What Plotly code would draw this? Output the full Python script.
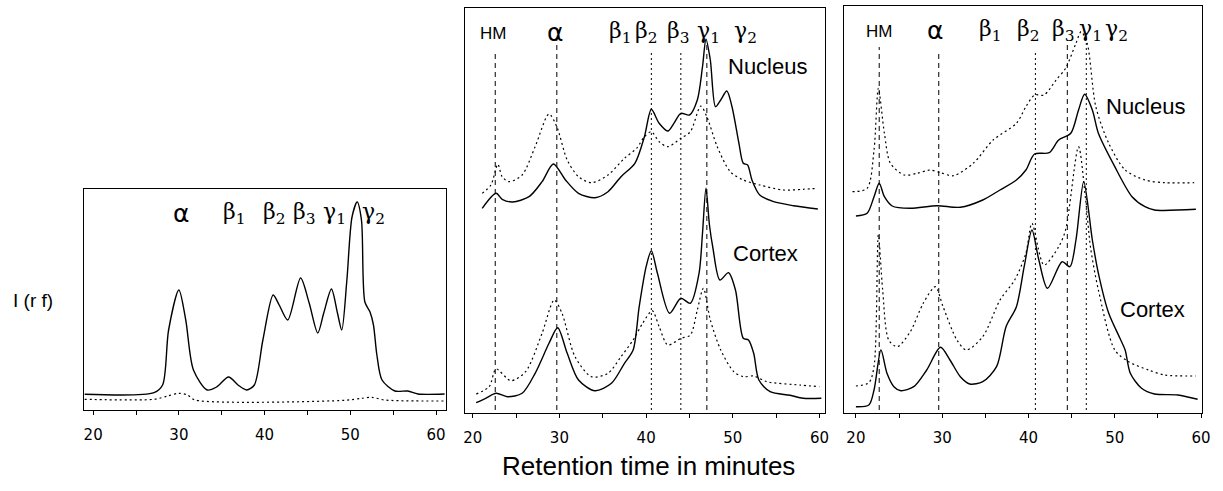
import plotly.graph_objects as go

# ---------------- data (retention time in minutes, intensity in relative units) -------------
# Panel 1
p1_t_solid = [19.0, 27.1, 28.1, 28.8, 30.0, 30.8, 31.7, 33.3, 34.4, 35.8, 36.9, 37.9, 38.8, 39.8,
              41.0, 41.7, 42.7, 44.2, 45.2, 46.2, 46.9, 47.8, 48.5, 49.0, 49.6, 50.2, 50.8, 51.3,
              51.7, 52.3, 52.7, 53.1, 53.7, 55.2, 56.7, 57.9, 61.0]
p1_solid = [15.7, 17.3, 25, 80, 120, 90, 40, 20, 23, 33, 25, 20, 25, 70,
            115, 105, 90, 132, 107, 77, 97, 121, 97, 80, 130, 193, 208, 190,
            108, 98, 85, 55, 30, 19, 19, 16, 16]
p1_t_dot = [19.0, 27.1, 28.7, 30.0, 31.0, 31.9, 49.4, 51.3, 52.5, 54.0, 61.0]
p1_dot = [10.7, 10.7, 14, 16.7, 15, 10, 9.7, 11.7, 12.7, 10, 9]

# Panel 2 - Nucleus
p2n_t_solid = [21.1, 22.7, 23.4, 24.6, 26.5, 28.0, 29.3, 30.7, 32.2, 34.1, 35.6, 37.1, 38.7, 39.8,
               40.6, 41.5, 42.5, 43.2, 44.0, 45.0, 45.9, 46.5, 46.9, 47.4, 48.0, 48.6, 49.3, 49.9,
               50.7, 51.2, 51.7, 52.2, 53.1, 54.7, 57.0, 59.8]
p2n_solid = [204.7, 219.7, 213.7, 211, 216.3, 231.3, 249, 233, 219.7, 215.3, 221.3, 236.3, 249.7, 276.3,
             303.7, 289.7, 282, 289.7, 299.7, 298, 313, 346.3, 373.7, 353, 306.3, 313, 322, 306.3,
             269.7, 249.7, 248, 233, 218, 211.3, 207.3, 204]
p2n_t_dot = [21.1, 22.1, 22.9, 23.4, 24.2, 25.7, 27.2, 28.8, 29.7, 30.9, 32.2, 33.7, 35.6, 37.5, 38.9,
             39.8, 40.6, 41.5, 42.5, 44.0, 45.1, 46.3, 47.0, 48.2, 49.7, 51.2, 53.1, 55.8, 58.1, 59.8]
p2n_dot = [219.7, 228, 248.7, 236.3, 231.3, 238, 266.3, 299, 286.3, 253, 236.3, 230.3, 238, 254.7, 264.7,
           276.3, 281.3, 271.3, 266.3, 274.7, 281.3, 307, 296.3, 266.3, 241.3, 233, 228, 223, 223.7, 224.7]

# Panel 2 - Cortex
p2c_t_solid = [20.4, 21.5, 22.7, 24.0, 25.7, 27.2, 28.8, 29.8, 30.9, 32.2, 34.1, 36.0, 37.5, 38.5,
               39.2, 40.0, 40.6, 41.3, 42.7, 44.0, 45.1, 46.1, 46.5, 46.9, 47.3, 47.7, 48.5, 49.5,
               50.3, 51.2, 51.8, 52.4, 53.0, 54.3, 56.6, 58.1, 60.2]
p2c_solid = [10.3, 14.7, 19.7, 16.3, 19.7, 39.7, 69.7, 85.3, 59.7, 33, 22.3, 29.7, 49.7, 63,
             106.3, 146.3, 162.3, 139.7, 99.7, 114.7, 109.7, 139.7, 180, 224.7, 188, 165, 133, 140.3,
             123, 74.7, 73, 59.7, 33, 21.3, 17.7, 14.7, 14.7]
p2c_t_dot = [20.4, 21.9, 22.7, 24.4, 26.1, 28.0, 29.4, 30.3, 31.8, 33.7, 35.6, 37.1, 38.5, 39.6, 40.7,
             41.5, 42.5, 44.0, 45.1, 45.9, 46.6, 47.4, 48.6, 50.1, 51.2, 52.4, 53.9, 57.7, 60.0]
p2c_dot = [19, 26.3, 44, 32.3, 41.3, 79.7, 113, 99.7, 56.3, 36.3, 39.7, 56.3, 73, 89.7, 102.3,
           86.3, 68, 74.7, 78, 103, 124.7, 93, 63, 41.3, 36.3, 37, 31.3, 28, 26.3]

# Panel 3 - Nucleus
p3n_t_solid = [20.0, 21.3, 22.1, 22.7, 23.3, 24.2, 26.3, 29.4, 32.1, 34.7, 36.7, 38.6, 39.7, 40.7,
               42.4, 43.5, 44.9, 45.8, 46.5, 47.4, 48.1, 50.0, 52.0, 53.5, 54.6, 59.4]
p3n_solid = [197, 199.7, 216.3, 229.7, 216.3, 207, 204.7, 207.3, 205.7, 213, 223, 233, 243, 259,
             260.3, 273, 279.7, 303, 318.7, 303, 279.7, 246.3, 216.3, 206.3, 203, 203.7]
p3n_t_dot = [19.6, 21.3, 22.1, 22.6, 23.3, 24.0, 25.6, 27.1, 28.6, 29.8, 31.3, 33.6, 35.9, 38.6,
             39.7, 40.7, 41.8, 43.2, 44.3, 45.5, 46.1, 46.8, 47.8, 49.3, 51.2, 53.5, 55.8, 59.2]
p3n_dot = [221.3, 224.7, 263, 324.7, 279.7, 249.7, 238, 239.7, 243, 240.3, 237.3, 249.7, 273, 289.7,
           306.3, 318, 318, 333, 344.7, 369.7, 381.3, 369.7, 306.3, 269.7, 243, 233, 230.3, 230.3]

# Panel 3 - Cortex
p3c_t_solid = [20.0, 21.5, 22.1, 22.9, 23.6, 24.4, 25.2, 26.7, 28.2, 29.8, 30.9, 32.1, 33.2, 34.7,
               36.3, 37.4, 38.6, 39.5, 40.4, 41.2, 42.2, 43.9, 44.8, 45.5, 46.4, 47.4, 48.1, 49.3,
               50.6, 51.2, 51.8, 53.1, 54.6, 57.3, 59.6]
p3c_solid = [6.3, 8, 23, 63, 39.7, 26.3, 22.3, 26.3, 43, 65.7, 53, 36.3, 29, 31.3,
             46.3, 86.3, 106.3, 146.3, 183, 153, 124.7, 151.3, 146.3, 173, 231.3, 173, 139.7, 99.7,
             74.7, 63, 39.7, 24.7, 19, 18, 13.7]
p3c_t_dot = [20.0, 21.5, 22.1, 22.6, 23.1, 23.8, 24.8, 26.3, 27.8, 29.2, 30.1, 31.7, 32.8, 34.7,
             36.7, 38.4, 39.7, 40.4, 41.8, 43.5, 44.3, 45.8, 46.6, 47.2, 48.1, 50.0, 51.6, 53.9, 55.8, 59.4]
p3c_dot = [27, 30.3, 46.3, 178, 123, 73, 66.3, 81.3, 109.7, 126.3, 106.3, 73, 63, 76.3,
           113, 133, 159.7, 189.7, 148, 166.3, 183, 266.3, 215, 165, 123, 63, 51.3, 43, 38, 37]

# Peak marker lines (retention times) and their top values
p2_marks_t = [22.6, 29.7, 40.6, 44.0, 47.0]
p2_marks_top = [361, 375, 360, 360, 370]
p3_marks_t = [22.7, 29.6, 40.8, 44.5, 46.7]
p3_marks_top = [366, 363, 363, 373, 383]

# Peak labels
peak_labels = ["α", "β<sub>1</sub>", "β<sub>2</sub>", "β<sub>3</sub>", "γ<sub>1</sub>", "γ<sub>2</sub>"]
p1_label_t = [30.2, 36.5, 41.2, 44.6, 48.1, 52.7]
p2_label_t = [29.5, 37.1, 40.0, 43.7, 47.2, 51.5]
p3_label_t = [29.2, 35.6, 40.0, 44.0, 47.2, 50.2]

tick_vals = [20, 25, 30, 35, 40, 45, 50, 55, 60]
tick_text = ["20", "", "30", "", "40", "", "50", "", "60"]

# ---------------- figure -------------
W, H = 1223, 491
fig = go.Figure()

solid_line = dict(color="black", width=1.4, shape="spline", smoothing=0.8)
dot_line = dict(color="black", width=1.2, dash="2px,3px", shape="spline", smoothing=0.8)


def add_curve(t, v, ax, line):
    fig.add_trace(go.Scatter(x=t, y=v, mode="lines", line=line, xaxis="x" + ax, yaxis="y" + ax,
                             hoverinfo="skip", showlegend=False))


add_curve(p1_t_solid, p1_solid, "", solid_line)
add_curve(p1_t_dot, p1_dot, "", dot_line)
add_curve(p2n_t_solid, p2n_solid, "2", solid_line)
add_curve(p2n_t_dot, p2n_dot, "2", dot_line)
add_curve(p2c_t_solid, p2c_solid, "2", solid_line)
add_curve(p2c_t_dot, p2c_dot, "2", dot_line)
add_curve(p3n_t_solid, p3n_solid, "3", solid_line)
add_curve(p3n_t_dot, p3n_dot, "3", dot_line)
add_curve(p3c_t_solid, p3c_solid, "3", solid_line)
add_curve(p3c_t_dot, p3c_dot, "3", dot_line)

p2_styles = ["5px,4px", "5px,4px", "2px,3px", "2px,3px", "5px,4px"]
p3_styles = ["5px,4px", "5px,4px", "2px,3px", "5px,4px", "2px,3px"]
for t, top, ds in zip(p2_marks_t, p2_marks_top, p2_styles):
    fig.add_trace(go.Scatter(x=[t, t], y=[3, top], mode="lines",
                             line=dict(color="black", width=1, dash=ds),
                             xaxis="x2", yaxis="y2", hoverinfo="skip", showlegend=False))
for t, top, ds in zip(p3_marks_t, p3_marks_top, p3_styles):
    fig.add_trace(go.Scatter(x=[t, t], y=[3, top], mode="lines",
                             line=dict(color="black", width=1, dash=ds),
                             xaxis="x3", yaxis="y3", hoverinfo="skip", showlegend=False))


def px_x(x):
    return x / W


def px_y(y):
    return 1 - y / H


axis_common = dict(showline=True, linecolor="black", linewidth=1, mirror=True,
                   showgrid=False, zeroline=False)
xaxis_common = dict(axis_common, tickmode="array", tickvals=tick_vals, ticktext=tick_text,
                    ticks="outside", ticklen=4, tickcolor="black", tickwidth=1,
                    ticklabelstandoff=7,
                    tickfont=dict(family="DejaVu Sans", size=15, color="black"))
yaxis_common = dict(axis_common, showticklabels=False, ticks="")

fig.update_layout(
    width=W, height=H,
    margin=dict(l=0, r=0, t=0, b=0),
    paper_bgcolor="white", plot_bgcolor="white",
    showlegend=False,
    xaxis=dict(xaxis_common, domain=[px_x(83), px_x(448)], range=[18.96, 61.16], anchor="y"),
    yaxis=dict(yaxis_common, domain=[px_y(410), px_y(189)], range=[0, 221], anchor="x"),
    xaxis2=dict(xaxis_common, domain=[px_x(467), px_x(830)], range=[19.09, 60.57], anchor="y2"),
    yaxis2=dict(yaxis_common, domain=[px_y(413), px_y(8)], range=[0, 405], anchor="x2"),
    xaxis3=dict(xaxis_common, domain=[px_x(850), px_x(1211)], range=[18.66, 60.12], anchor="y3"),
    yaxis3=dict(yaxis_common, domain=[px_y(413), px_y(6)], range=[0, 407], anchor="x3"),
)

ann = []
greek_font = dict(family="DejaVu Serif", size=22, color="black")
alpha_font = dict(family="DejaVu Sans", size=25, color="black")


def add_labels(times, yval, ax):
    for i, (lab, t) in enumerate(zip(peak_labels, times)):
        ann.append(dict(x=t, y=yval, xref="x" + ax, yref="y" + ax, text=lab, showarrow=False,
                        font=alpha_font if i == 0 else greek_font, xanchor="center", yanchor="middle"))


add_labels(p1_label_t, 197, "")
add_labels(p2_label_t, 381, "2")
add_labels(p3_label_t, 382, "3")

sans = "Liberation Sans"


def text_ann(x, y, xref, yref, text, size):
    ann.append(dict(x=x, y=y, xref=xref, yref=yref, text=text, showarrow=False,
                    xanchor="center", yanchor="middle",
                    font=dict(family=sans, size=size, color="black")))


text_ann(22.3, 380, "x2", "y2", "HM", 17)
text_ann(22.7, 381, "x3", "y3", "HM", 17)
text_ann(54.0, 347, "x2", "y2", "Nucleus", 22)
text_ann(53.8, 159.5, "x2", "y2", "Cortex", 22)
text_ann(53.6, 306, "x3", "y3", "Nucleus", 22)
text_ann(54.4, 104, "x3", "y3", "Cortex", 22)
text_ann(px_x(31), px_y(300), "paper", "paper", "I (r f)", 19)
text_ann(px_x(652), px_y(466), "paper", "paper", "Retention time in minutes", 26)

fig.update_layout(annotations=ann)
fig.write_html("out.html")
